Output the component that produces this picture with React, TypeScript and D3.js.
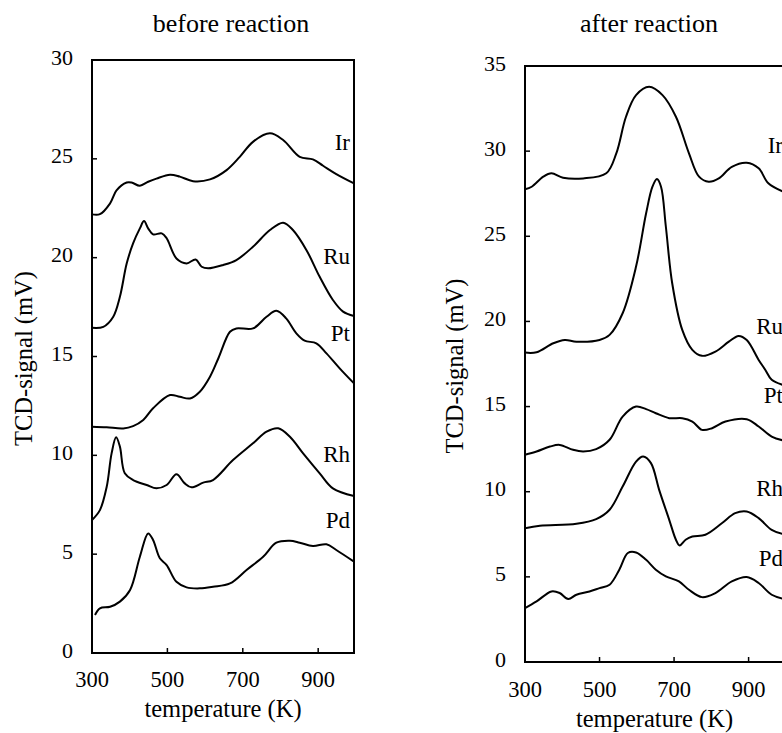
import React from "react";
import * as d3 from "d3";

// ---------- data (temperature K, signal mV) ----------
const metals = ["Ir", "Ru", "Pt", "Rh", "Pd"];

const beforeIrT = [300, 321, 348, 365, 392, 405, 427, 449, 471, 507, 533, 568, 613, 657, 692, 727, 772, 807, 851, 886, 913, 948, 995];
const beforeIrV = [22.19, 22.2, 22.75, 23.4, 23.8, 23.8, 23.64, 23.84, 24.0, 24.2, 24.1, 23.87, 23.96, 24.43, 25.1, 25.86, 26.29, 25.95, 25.1, 24.97, 24.65, 24.23, 23.76];

const beforeRuT = [300, 330, 356, 374, 392, 409, 427, 438, 449, 462, 485, 498, 524, 551, 575, 591, 608, 648, 683, 727, 772, 807, 833, 869, 904, 939, 966, 995];
const beforeRuV = [16.45, 16.5, 17.0, 18.02, 19.7, 20.72, 21.48, 21.85, 21.48, 21.18, 21.23, 20.98, 19.96, 19.71, 19.91, 19.54, 19.46, 19.63, 19.88, 20.55, 21.4, 21.77, 21.4, 20.38, 19.03, 17.86, 17.27, 17.05];

const beforePtT = [300, 339, 383, 409, 436, 462, 507, 533, 560, 586, 613, 635, 666, 683, 727, 763, 789, 815, 842, 864, 895, 922, 957, 995];
const beforePtV = [11.45, 11.42, 11.36, 11.48, 11.79, 12.38, 13.05, 12.96, 12.88, 13.22, 13.98, 14.9, 16.25, 16.42, 16.42, 17.01, 17.31, 16.93, 16.17, 15.8, 15.67, 15.16, 14.4, 13.64];

const beforeRhT = [300, 321, 339, 352, 364, 374, 387, 409, 445, 471, 498, 524, 546, 564, 595, 621, 674, 727, 763, 794, 825, 860, 904, 939, 995];
const beforeRhV = [6.73, 7.23, 8.41, 10.1, 10.91, 10.44, 9.09, 8.75, 8.5, 8.33, 8.5, 9.04, 8.58, 8.38, 8.62, 8.75, 9.76, 10.61, 11.2, 11.37, 10.94, 10.1, 9.09, 8.33, 7.94];

const beforePdT = [308, 321, 348, 374, 401, 427, 449, 462, 480, 498, 524, 551, 586, 621, 666, 710, 754, 789, 825, 851, 886, 922, 948, 995];
const beforePdV = [1.92, 2.26, 2.34, 2.6, 3.19, 4.87, 6.05, 5.72, 4.79, 4.45, 3.6, 3.32, 3.27, 3.35, 3.52, 4.2, 4.87, 5.58, 5.68, 5.58, 5.41, 5.5, 5.21, 4.62];

const afterIrT = [300, 318, 349, 371, 402, 456, 518, 545, 571, 598, 633, 669, 705, 740, 767, 793, 820, 855, 895, 927, 953, 995];
const afterIrV = [27.76, 27.91, 28.5, 28.7, 28.44, 28.4, 28.7, 29.87, 32.02, 33.29, 33.78, 33.29, 32.02, 29.87, 28.5, 28.2, 28.4, 29.08, 29.32, 28.99, 28.11, 27.6];

const afterRuT = [300, 331, 376, 407, 438, 500, 527, 562, 598, 625, 642, 654, 665, 678, 695, 722, 749, 775, 811, 847, 873, 895, 927, 945, 962, 995];
const afterRuV = [18.17, 18.19, 18.72, 18.91, 18.81, 18.91, 19.21, 20.48, 23.22, 26.35, 27.91, 28.36, 27.91, 25.56, 22.24, 19.5, 18.33, 17.98, 18.23, 18.81, 19.15, 18.91, 17.74, 17.15, 16.57, 16.25];

const afterPtT = [300, 331, 367, 393, 429, 456, 491, 527, 562, 598, 625, 651, 687, 722, 749, 775, 802, 838, 895, 927, 962, 995];
const afterPtV = [12.17, 12.36, 12.65, 12.75, 12.46, 12.36, 12.5, 13.05, 14.41, 15.0, 14.85, 14.61, 14.32, 14.32, 14.12, 13.63, 13.73, 14.12, 14.26, 13.83, 13.24, 13.0];

const afterRhT = [300, 340, 438, 491, 527, 562, 598, 617, 638, 660, 687, 705, 715, 731, 749, 784, 829, 864, 895, 927, 962, 995];
const afterRhV = [7.86, 8.0, 8.12, 8.39, 8.94, 10.3, 11.77, 12.07, 11.68, 10.11, 8.35, 7.18, 6.84, 7.18, 7.37, 7.47, 8.16, 8.74, 8.84, 8.45, 7.76, 7.5];

const afterPdT = [300, 331, 371, 393, 416, 438, 473, 500, 527, 553, 576, 598, 625, 651, 678, 713, 740, 775, 811, 855, 895, 927, 962, 995];
const afterPdV = [3.17, 3.56, 4.14, 4.05, 3.7, 3.95, 4.14, 4.34, 4.54, 5.42, 6.4, 6.43, 6.0, 5.42, 5.03, 4.73, 4.24, 3.81, 4.05, 4.73, 4.99, 4.64, 3.95, 3.7];

const beforeLabelY = [25.44, 19.7, 15.78, 9.66, 6.32];
const afterLabelY = [29.9, 19.27, 15.2, 9.76, 5.65];

const xTicks = [300, 500, 700, 900];
const beforeYTicks = [0, 5, 10, 15, 20, 25, 30];
const afterYTicks = [0, 5, 10, 15, 20, 25, 30, 35];

const beforeSeries = [
  [beforeIrT, beforeIrV],
  [beforeRuT, beforeRuV],
  [beforePtT, beforePtV],
  [beforeRhT, beforeRhV],
  [beforePdT, beforePdV],
];
const afterSeries = [
  [afterIrT, afterIrV],
  [afterRuT, afterRuV],
  [afterPtT, afterPtV],
  [afterRhT, afterRhV],
  [afterPdT, afterPdV],
];

const FONT = "'Liberation Serif', 'Times New Roman', serif";

type PanelProps = {
  title: string;
  series: number[][][];
  labelY: number[];
  yTicks: number[];
  yMax: number;
  left: number;
  right: number;
  top: number;
  bottom: number;
  titleX: number;
  yLabelX: number;
  xTickY: number;
  xLabelY: number;
  labelX: number;
};

function Panel(p: PanelProps) {
  const x = d3.scaleLinear().domain([300, 995]).range([p.left, p.right]);
  const y = d3.scaleLinear().domain([0, p.yMax]).range([p.bottom, p.top]);
  const line = d3
    .line<[number, number]>()
    .x((d) => x(d[0]))
    .y((d) => y(d[1]))
    .curve(d3.curveCatmullRom.alpha(0.5));
  const cx = (p.left + p.right) / 2;
  return (
    <g>
      <text x={p.titleX} y={32} textAnchor="middle" fontSize={26} fontFamily={FONT}>
        {p.title}
      </text>
      <rect
        x={p.left}
        y={p.top}
        width={p.right - p.left}
        height={p.bottom - p.top}
        fill="none"
        stroke="#000"
        strokeWidth={2}
      />
      {p.yTicks.map((t) => (
        <g key={"y" + t}>
          <line x1={p.left} x2={p.left + 5} y1={y(t)} y2={y(t)} stroke="#000" strokeWidth={1.5} />
          <text
            x={p.left - 19}
            y={y(t) - 3}
            textAnchor="end"
            dominantBaseline="central"
            fontSize={22}
            fontFamily={FONT}
          >
            {t}
          </text>
        </g>
      ))}
      {xTicks.map((t) => (
        <g key={"x" + t}>
          <line x1={x(t)} x2={x(t)} y1={p.bottom} y2={p.bottom - 5} stroke="#000" strokeWidth={1.5} />
          <text x={x(t)} y={p.xTickY} textAnchor="middle" fontSize={22.5} fontFamily={FONT}>
            {t}
          </text>
        </g>
      ))}
      <text x={cx} y={p.xLabelY} textAnchor="middle" fontSize={24.5} fontFamily={FONT}>
        temperature (K)
      </text>
      <text
        transform={`translate(${p.yLabelX},${(p.top + p.bottom) / 2 + 2}) rotate(-90)`}
        textAnchor="middle"
        dominantBaseline="central"
        fontSize={24.5}
        fontFamily={FONT}
      >
        TCD-signal (mV)
      </text>
      {p.series.map((s, i) => {
        const pts = s[0].map((t, k) => [t, s[1][k]] as [number, number]);
        return <path key={i} d={line(pts) || ""} fill="none" stroke="#000" strokeWidth={2} />;
      })}
      {metals.map((m, i) => (
        <text key={m} x={p.labelX} y={y(p.labelY[i])} textAnchor="end" fontSize={23} fontFamily={FONT}>
          {m}
        </text>
      ))}
    </g>
  );
}

export default function App() {
  return (
    <svg
      width={782}
      height={733}
      style={{ position: "absolute", left: 0, top: 0, background: "#fff", display: "block" }}
    >
      <Panel
        title="before reaction"
        series={beforeSeries}
        labelY={beforeLabelY}
        yTicks={beforeYTicks}
        yMax={30}
        left={92}
        right={354}
        top={60}
        bottom={653}
        titleX={231}
        yLabelX={23}
        xTickY={687}
        xLabelY={717}
        labelX={350}
      />
      <Panel
        title="after reaction"
        series={afterSeries}
        labelY={afterLabelY}
        yTicks={afterYTicks}
        yMax={35}
        left={525}
        right={784}
        top={66}
        bottom={662}
        titleX={649}
        yLabelX={454}
        xTickY={697}
        xLabelY={727}
        labelX={783}
      />
    </svg>
  );
}
